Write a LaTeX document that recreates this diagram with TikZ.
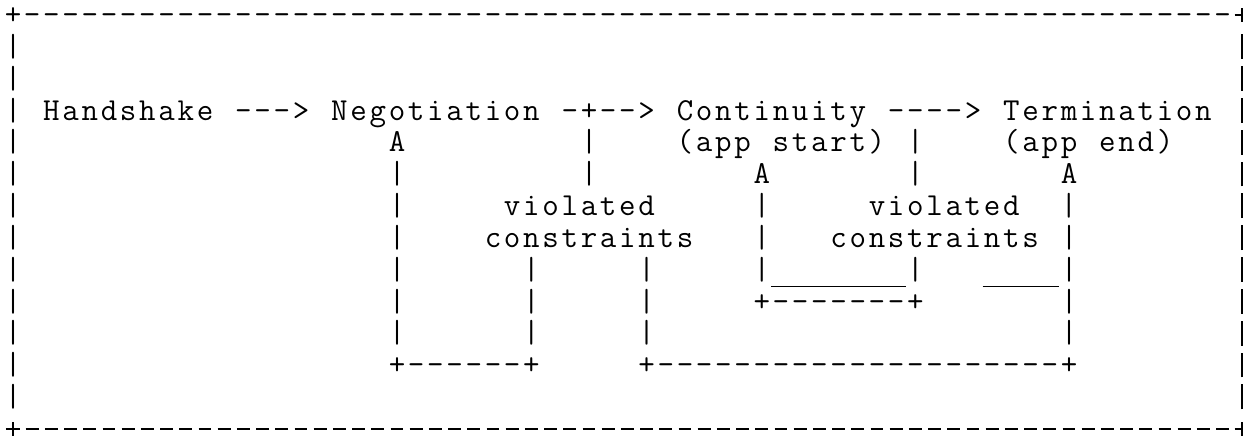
\documentclass[tikz,border=0pt]{standalone}
\newlength\cw
\setlength\cw{9.6pt}
\newdimen\plarm
\newdimen\plctr
\newdimen\hyl
\newdimen\hyw
\newdimen\hyt
\newdimen\hyb
\def\mttend{MTT@END}
\def\mtt#1{\mttloop#1\mttend}
\def\mttloop#1{\ifx#1\mttend\else\makebox[\cw]{#1}\expandafter\mttloop\fi}
% border characters at the page edge, drawn as strokes
\def\lstbar{\makebox[4.6pt][l]{\hspace*{4.35pt}\rule[-\fontchardp\font`\|]{0.9pt}{\dimexpr\fontcharht\font`\|+\fontchardp\font`\|\relax}}}
\def\crossrule#1{\plarm=\dimexpr(\fontcharht\font`\+ + \fontchardp\font`\+)/2\relax
  \plctr=\dimexpr(\fontcharht\font`\+ - \fontchardp\font`\+)/2\relax
  \makebox[#1][l]{\hspace*{\dimexpr4.8pt-\plarm\relax}\rule[\dimexpr\plctr-0.45pt\relax]{\dimexpr2\plarm\relax}{0.9pt}\hspace*{\dimexpr-\plarm-0.45pt\relax}\rule[\dimexpr\plctr-\plarm\relax]{0.9pt}{\dimexpr2\plarm\relax}}}
\def\hymeasure{%
  \hyl=\dimexpr(\cw-\fontcharwd\font`\-)/2+\XeTeXglyphbounds1 \XeTeXcharglyph`\- \relax
  \hyw=\dimexpr\fontcharwd\font`\- -\XeTeXglyphbounds1 \XeTeXcharglyph`\- -\XeTeXglyphbounds3 \XeTeXcharglyph`\- \relax
  \hyt=\XeTeXglyphbounds2 \XeTeXcharglyph`\- \relax
  \hyb=-\XeTeXglyphbounds4 \XeTeXcharglyph`\- \relax
  \ifdim\dimexpr\hyt-\hyb\relax>2pt \hyb=\dimexpr\hyt-0.9pt\relax\fi
  \ifdim\hyb<0pt \hyb=\dimexpr\hyt-0.9pt\relax\fi
  \ifdim\hyw<1pt \hyw=6pt \hyl=1.8pt \fi
  \ifdim\hyw>\cw \hyw=6pt \hyl=1.8pt \fi}
\def\dashrule{\makebox[\cw][l]{\hspace*{\hyl}\rule[\hyb]{\hyw}{\dimexpr\hyt-\hyb\relax}}}
\def\sk#1{\hspace*{#1\cw}}
\def\usc{\rule[-3.8pt]{\cw}{0.6pt}}
\newcount\repn
\def\rep#1#2{\repn=#1\relax\loop\ifnum\repn>0 \makebox[\cw]{#2}\advance\repn-1\relax\repeat}
\tikzset{asciirow/.style={anchor=base west, inner sep=0pt, outer sep=0pt,
  font=\ttfamily\fontsize{16pt}{16pt}\selectfont, text=black}}
\begin{document}
\begin{tikzpicture}[x=9.6pt,y=-15.925pt]
\useasboundingbox (-0.177,-0.769) rectangle (64.5625,12.951);
\node[asciirow] (r0) at (0,0) {\mtt{+}\rep{63}{-}\crossrule{4.6pt}};
\node[asciirow] (r1) at (0,1) {\mtt{|}\sk{63}\lstbar};
\node[asciirow] (r2) at (0,2) {\mtt{|}\sk{63}\lstbar};
\node[asciirow] (r3) at (0,3) {\mtt{|~Handshake~--->~Negotiation~-+-->~Continuity~---->~Termination~}\lstbar};
\node[asciirow] (r4) at (0,4) {\mtt{|}\sk{19}\mtt{A}\sk{9}\mtt{|}\sk{4}\mtt{(app~start)~|}\sk{4}\mtt{(app~end)}\sk{3}\lstbar};
\node[asciirow] (r5) at (0,5) {\mtt{|}\sk{19}\mtt{|}\sk{9}\mtt{|}\sk{8}\mtt{A}\sk{7}\mtt{|}\sk{7}\mtt{A}\sk{8}\lstbar};
\node[asciirow] (r6) at (0,6) {\mtt{|}\sk{19}\mtt{|}\sk{5}\mtt{violated}\sk{5}\mtt{|}\sk{5}\mtt{violated}\sk{2}\mtt{|}\sk{8}\lstbar};
\node[asciirow] (r7) at (0,7) {\mtt{|}\sk{19}\mtt{|}\sk{4}\mtt{constraints}\sk{3}\mtt{|}\sk{3}\mtt{constraints~|}\sk{8}\lstbar};
\node[asciirow] (r8) at (0,8) {\mtt{|}\sk{19}\mtt{|}\sk{6}\mtt{|}\sk{5}\mtt{|}\sk{5}\mtt{|}\rep{7}{\usc}\mtt{|}\sk{3}\rep{4}{\usc}\mtt{|}\sk{8}\lstbar};
\node[asciirow] (r9) at (0,9) {\mtt{|}\sk{19}\mtt{|}\sk{6}\mtt{|}\sk{5}\mtt{|}\sk{5}\mtt{+}\rep{7}{-}\mtt{+}\sk{7}\mtt{|}\sk{8}\lstbar};
\node[asciirow] (r10) at (0,10) {\mtt{|}\sk{19}\mtt{|}\sk{6}\mtt{|}\sk{5}\mtt{|}\sk{21}\mtt{|}\sk{8}\lstbar};
\node[asciirow] (r11) at (0,11) {\mtt{|}\sk{19}\mtt{+}\rep{6}{-}\mtt{+}\sk{5}\mtt{+}\rep{21}{-}\mtt{+}\sk{8}\lstbar};
\node[asciirow] (r12) at (0,12) {\mtt{|}\sk{63}\lstbar};
\node[asciirow] (r13) at (0,13) {\hymeasure\crossrule{\cw}\rep{63}{\dashrule}\crossrule{4.6pt}};
\end{tikzpicture}
\end{document}
